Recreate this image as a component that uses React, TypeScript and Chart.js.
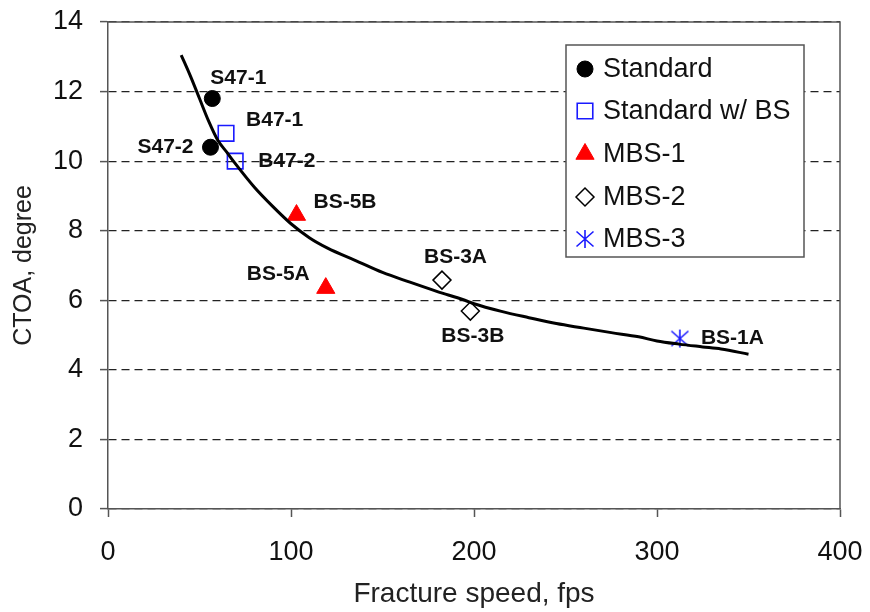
import React, { useEffect, useRef } from 'react';
import { Chart, registerables } from 'chart.js';
import { drawPoint } from 'chart.js/helpers';

Chart.register(...registerables);

// Fitted trend curve (fracture speed in fps, CTOA in degrees)
const curveX = [40, 45, 50, 55, 60, 65, 70, 80, 90, 100, 110, 120, 135, 150, 165, 180, 195, 200, 215, 230, 245, 260, 275, 290, 300, 312, 325, 335, 350];
const curveY = [13.05, 12.45, 11.8, 11.15, 10.6, 10.25, 9.9, 9.25, 8.7, 8.2, 7.8, 7.5, 7.15, 6.8, 6.52, 6.25, 6.0, 5.9, 5.68, 5.5, 5.33, 5.2, 5.07, 4.95, 4.83, 4.74, 4.66, 4.6, 4.45];

// Test series
const standardX = [57, 56];
const standardY = [11.8, 10.4];
const standardNames = ['S47-1', 'S47-2'];

const standardBsX = [64.5, 69.5];
const standardBsY = [10.8, 10.0];
const standardBsNames = ['B47-1', 'B47-2'];

const mbs1X = [103, 119];
const mbs1Y = [8.45, 6.35];
const mbs1Names = ['BS-5B', 'BS-5A'];

const mbs2X = [182.5, 198];
const mbs2Y = [6.58, 5.69];
const mbs2Names = ['BS-3A', 'BS-3B'];

const mbs3X = [312.5];
const mbs3Y = [4.9];
const mbs3Names = ['BS-1A'];

const seriesNames = ['Standard', 'Standard w/ BS', 'MBS-1', 'MBS-2', 'MBS-3'];

const xTicks = [0, 100, 200, 300, 400];
const yTicks = [0, 2, 4, 6, 8, 10, 12, 14];

const FONT = '"Liberation Sans", Arial, Helvetica, sans-serif';

// Offsets of each specimen label from its marker: [dx, dy, align]
const labelPlacement: Record<string, [number, number, CanvasTextAlign]> = {
  'S47-1': [-2, -20, 'left'],
  'S47-2': [-17, 0, 'right'],
  'B47-1': [20, -13, 'left'],
  'B47-2': [23, 0, 'left'],
  'BS-5B': [17, -13, 'left'],
  'BS-5A': [-16, -14, 'right'],
  'BS-3A': [-18, -23, 'left'],
  'BS-3B': [-29, 25, 'left'],
  'BS-1A': [21, 0, 'left'],
};

function pts(xs: number[], ys: number[]) {
  return xs.map((x, i) => ({ x, y: ys[i] }));
}

function makeStar(): HTMLCanvasElement {
  const c = document.createElement('canvas');
  c.width = 20;
  c.height = 20;
  const g = c.getContext('2d')!;
  g.strokeStyle = '#1a1aff';
  g.lineWidth = 1.6;
  g.beginPath();
  g.moveTo(10, 1);
  g.lineTo(10, 19);
  g.moveTo(1.5, 2.5);
  g.lineTo(18.5, 17.5);
  g.moveTo(18.5, 2.5);
  g.lineTo(1.5, 17.5);
  g.stroke();
  return c;
}

export default function App() {
  const ref = useRef<HTMLCanvasElement | null>(null);

  useEffect(() => {
    if (!ref.current) return;
    const star = makeStar();

    const names = [standardNames, standardBsNames, mbs1Names, mbs2Names, mbs3Names];

    const markerSets = [
      { data: pts(standardX, standardY), pointStyle: 'circle', radius: 8, backgroundColor: '#000', borderColor: '#000', borderWidth: 1 },
      { data: pts(standardBsX, standardBsY), pointStyle: 'rect', radius: 11, backgroundColor: 'rgba(0,0,0,0)', borderColor: '#1a1aff', borderWidth: 1.6 },
      { data: pts(mbs1X, mbs1Y), pointStyle: 'triangle', radius: 10.5, backgroundColor: '#ff0000', borderColor: '#ff0000', borderWidth: 1 },
      { data: pts(mbs2X, mbs2Y), pointStyle: 'rectRot', radius: 9, backgroundColor: 'rgba(0,0,0,0)', borderColor: '#000', borderWidth: 1.5 },
      { data: pts(mbs3X, mbs3Y), pointStyle: star, radius: 10, backgroundColor: 'rgba(0,0,0,0)', borderColor: '#1a1aff', borderWidth: 1.5 },
    ];

    const datasets: any[] = [
      {
        type: 'line',
        label: 'trend',
        data: pts(curveX, curveY),
        borderColor: '#000',
        borderWidth: 3,
        pointRadius: 0,
        fill: false,
        cubicInterpolationMode: 'monotone',
      },
      ...markerSets.map((m, i) => ({
        type: 'scatter',
        label: seriesNames[i],
        data: m.data,
        pointStyle: m.pointStyle,
        pointRadius: m.radius,
        pointHoverRadius: m.radius,
        pointBackgroundColor: m.backgroundColor,
        pointBorderColor: m.borderColor,
        pointBorderWidth: m.borderWidth,
        backgroundColor: m.backgroundColor,
        borderColor: m.borderColor,
        borderWidth: m.borderWidth,
        showLine: false,
      })),
    ];

    const framePlugin = {
      id: 'frame',
      afterDatasetsDraw(chart: any) {
        const { ctx, chartArea: a } = chart;
        ctx.save();
        ctx.strokeStyle = '#555';
        ctx.lineWidth = 1.5;
        ctx.beginPath();
        ctx.moveTo(a.left, a.top);
        ctx.lineTo(a.right, a.top);
        ctx.lineTo(a.right, a.bottom);
        ctx.stroke();
        ctx.restore();
      },
    };

    const labelPlugin = {
      id: 'specimenLabels',
      afterDatasetsDraw(chart: any) {
        const { ctx } = chart;
        ctx.save();
        ctx.font = `bold 21px ${FONT}`;
        ctx.fillStyle = '#111';
        ctx.textBaseline = 'middle';
        names.forEach((list, si) => {
          const meta = chart.getDatasetMeta(si + 1);
          list.forEach((name, j) => {
            const el = meta.data[j];
            if (!el) return;
            const [dx, dy, align] = labelPlacement[name];
            ctx.textAlign = align;
            ctx.fillText(name, el.x + dx, el.y + dy);
          });
        });
        ctx.restore();
      },
    };

    const legendPlugin = {
      id: 'boxLegend',
      afterDraw(chart: any) {
        const { ctx } = chart;
        const box = { left: 566, top: 45, right: 804, bottom: 257 };
        ctx.save();
        ctx.fillStyle = '#fff';
        ctx.fillRect(box.left, box.top, box.right - box.left, box.bottom - box.top);
        ctx.strokeStyle = '#555';
        ctx.lineWidth = 1.5;
        ctx.strokeRect(box.left, box.top, box.right - box.left, box.bottom - box.top);
        const rowY = [69, 111, 154, 197, 239];
        markerSets.forEach((m, i) => {
          ctx.fillStyle = m.backgroundColor;
          ctx.strokeStyle = m.borderColor;
          ctx.lineWidth = m.borderWidth;
          drawPoint(ctx, { pointStyle: m.pointStyle as any, radius: m.radius, rotation: 0, borderWidth: m.borderWidth }, 585, rowY[i]);
          ctx.fillStyle = '#111';
          ctx.font = `27px ${FONT}`;
          ctx.textAlign = 'left';
          ctx.textBaseline = 'middle';
          ctx.fillText(seriesNames[i], 603, rowY[i] + 1);
        });
        ctx.restore();
      },
    };

    const chart = new Chart(ref.current, {
      type: 'scatter',
      data: { datasets },
      options: {
        animation: false,
        responsive: false,
        devicePixelRatio: 1,
        layout: { padding: { left: 0, top: 22, right: 30, bottom: 0 } },
        plugins: { legend: { display: false }, tooltip: { enabled: false } },
        scales: {
          x: {
            type: 'linear',
            min: 0,
            max: 400,
            afterBuildTicks(scale: any) {
              scale.ticks = xTicks.map((v) => ({ value: v }));
            },
            afterFit(scale: any) {
              scale.height = 103;
              scale.paddingLeft = 0;
              scale.paddingRight = 0;
            },
            ticks: { font: { size: 27, family: FONT }, color: '#111', padding: 19, maxRotation: 0 },
            grid: { drawOnChartArea: false, drawTicks: true, tickLength: 8, tickColor: '#555', tickWidth: 1.5 },
            border: { display: true, color: '#555', width: 1.5 },
            title: { display: true, text: 'Fracture speed, fps', font: { size: 28, family: FONT }, color: '#222', padding: { top: 0, bottom: 1 } },
          },
          y: {
            type: 'linear',
            min: 0,
            max: 14,
            afterBuildTicks(scale: any) {
              scale.ticks = yTicks.map((v) => ({ value: v }));
            },
            afterFit(scale: any) {
              scale.width = 108;
              scale.paddingTop = 0;
              scale.paddingBottom = 0;
            },
            ticks: { font: { size: 27, family: FONT }, color: '#111', padding: 17 },
            grid: {
              color: '#222',
              lineWidth: 1.2,
              drawTicks: true,
              tickLength: 8,
              tickBorderDash: [],
              tickColor: '#555',
              tickWidth: 1.5,
            } as any,
            border: { display: true, color: '#555', width: 1.5, dash: [8, 5] },
            title: { display: true, text: 'CTOA, degree', font: { size: 25, family: FONT }, color: '#222', padding: { top: 9, bottom: 0 } },
          },
        },
      } as any,
      plugins: [framePlugin, labelPlugin, legendPlugin],
    });

    return () => chart.destroy();
  }, []);

  return (
    <div style={{ position: 'fixed', left: 0, top: 0, width: 870, height: 612, background: '#fff' }}>
      <canvas ref={ref} width={870} height={612} />
    </div>
  );
}
